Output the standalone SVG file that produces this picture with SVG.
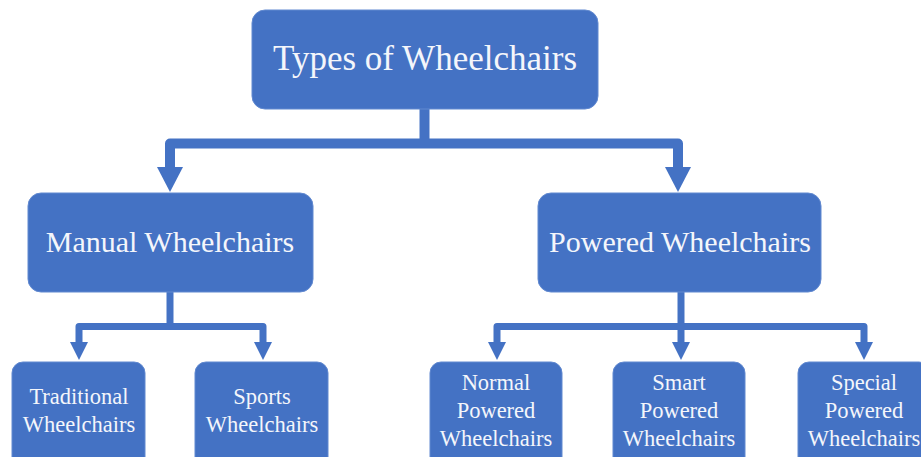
<svg xmlns="http://www.w3.org/2000/svg" width="921" height="457" viewBox="0 0 921 457">
<style>
.box{fill:#4472C4;stroke:#6189d0;stroke-width:1}
.t{fill:#f4f6fb;font-family:"Liberation Serif","Times New Roman",serif;text-anchor:middle}
.l1{font-size:35px}
.l2{font-size:30px}
.l3{font-size:22.5px}
.c{fill:none;stroke:#4472C4;stroke-linejoin:round}
.h{fill:#4472C4}
</style>
<rect width="921" height="457" fill="#ffffff"/>
<g id="connectors">
<path class="c" stroke-width="10" d="M424.5,109 V143.5"/>
<path class="c" stroke-width="10" d="M170,168 V143.5 H678 V168"/>
<polygon class="h" points="157,167 183,167 170,192"/>
<polygon class="h" points="665,167 691,167 678,192"/>
<path class="c" stroke-width="7" d="M170,292 V326.5"/>
<path class="c" stroke-width="7" d="M79,343 V326.5 H263 V343"/>
<polygon class="h" points="70,342 88,342 79,360"/>
<polygon class="h" points="254,342 272,342 263,360"/>
<path class="c" stroke-width="7" d="M681,292 V326.5"/>
<path class="c" stroke-width="7" d="M497,343 V326.5 H864 V343"/>
<path class="c" stroke-width="7" d="M681,326.5 V343"/>
<polygon class="h" points="488,342 506,342 497,360"/>
<polygon class="h" points="672,342 690,342 681,360"/>
<polygon class="h" points="855,342 873,342 864,360"/>
</g>
<g id="root">
<rect class="box" x="252" y="10" width="346" height="99" rx="13"/>
<text class="t l1" x="425" y="70">Types of Wheelchairs</text>
</g>
<g id="manual">
<rect class="box" x="28" y="193" width="285" height="99" rx="13"/>
<text class="t l2" x="170" y="252">Manual Wheelchairs</text>
</g>
<g id="powered">
<rect class="box" x="538" y="193" width="283" height="99" rx="13"/>
<text class="t l2" x="680" y="252">Powered Wheelchairs</text>
</g>
<g id="traditional">
<rect class="box" x="12" y="362" width="133" height="110" rx="11"/>
<text class="t l3" x="79" y="404">Traditional</text>
<text class="t l3" x="79" y="432">Wheelchairs</text>
</g>
<g id="sports">
<rect class="box" x="195" y="362" width="133" height="110" rx="11"/>
<text class="t l3" x="262" y="404">Sports</text>
<text class="t l3" x="262" y="432">Wheelchairs</text>
</g>
<g id="normal">
<rect class="box" x="430" y="362" width="132" height="110" rx="11"/>
<text class="t l3" x="496" y="390">Normal</text>
<text class="t l3" x="496" y="418">Powered</text>
<text class="t l3" x="496" y="446">Wheelchairs</text>
</g>
<g id="smart">
<rect class="box" x="613" y="362" width="132" height="110" rx="11"/>
<text class="t l3" x="679" y="390">Smart</text>
<text class="t l3" x="679" y="418">Powered</text>
<text class="t l3" x="679" y="446">Wheelchairs</text>
</g>
<g id="special">
<rect class="box" x="798" y="362" width="132" height="110" rx="11"/>
<text class="t l3" x="864" y="390">Special</text>
<text class="t l3" x="864" y="418">Powered</text>
<text class="t l3" x="864" y="446">Wheelchairs</text>
</g>
</svg>
